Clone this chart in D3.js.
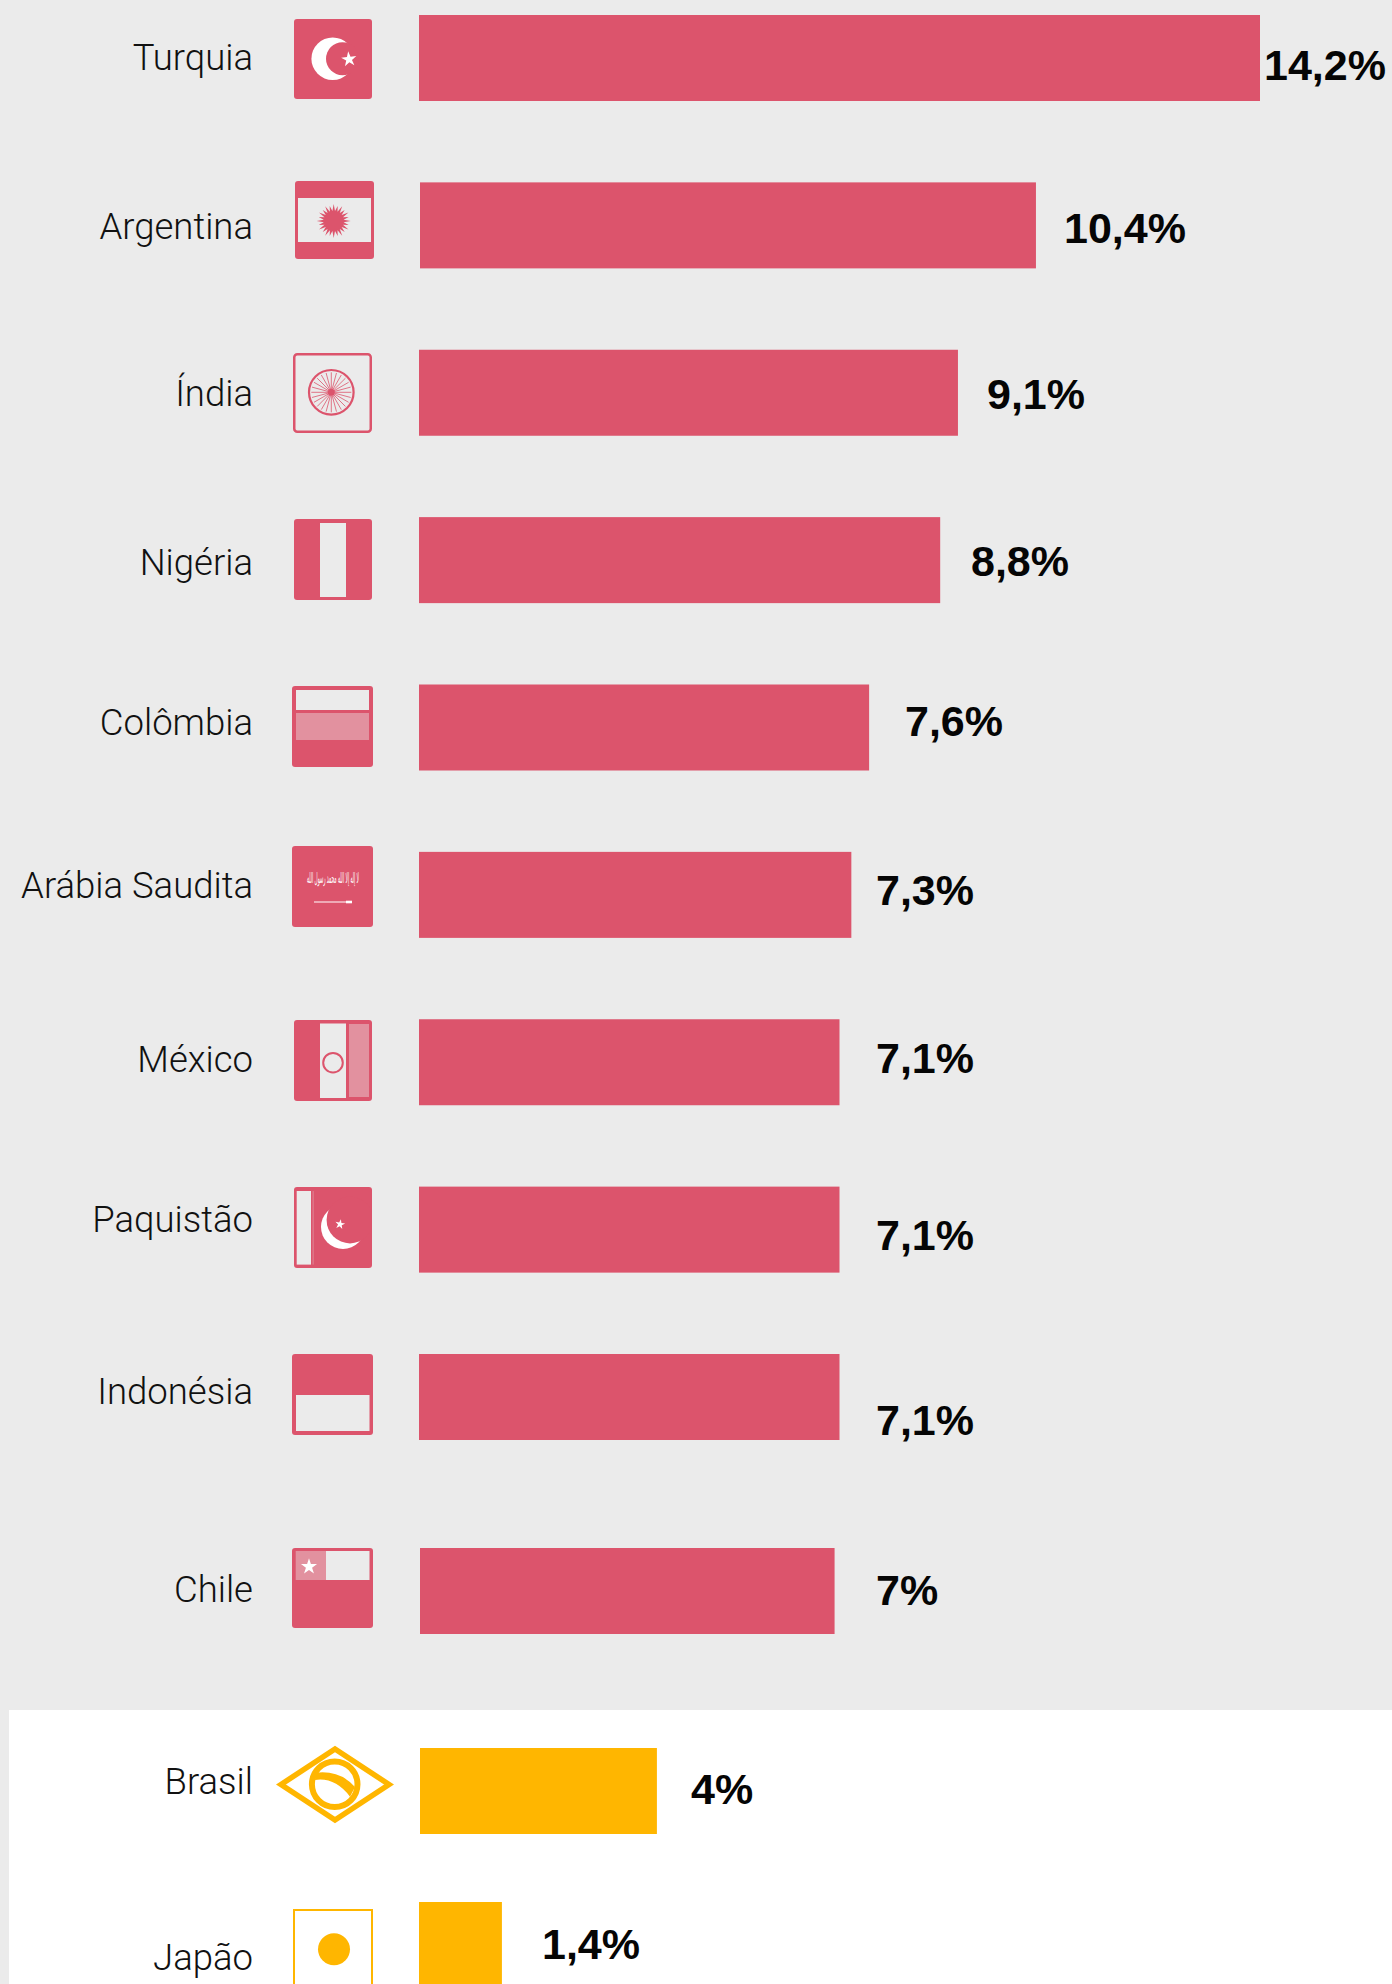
<!DOCTYPE html>
<html lang="pt">
<head>
<meta charset="utf-8">
<title>Participação por país</title>
<script src="https://cdn.jsdelivr.net/npm/d3@7/dist/d3.min.js"></script>
<style>
  html, body { margin: 0; padding: 0; background: #ebebeb; overflow: hidden; }
  svg { display: block; }
  .country { font-family: Roboto, "Liberation Sans", sans-serif; font-weight: 300; font-size: 36.5px; fill: #111; }
  .share { font-family: "Liberation Sans", Arimo, sans-serif; font-weight: 700; font-size: 43px; fill: #050505; }
</style>
</head>
<body>
<script>
// Series
const countries = ["Turquia", "Argentina", "Índia", "Nigéria", "Colômbia", "Arábia Saudita",
                   "México", "Paquistão", "Indonésia", "Chile", "Brasil", "Japão"];
const shares = [14.2, 10.4, 9.1, 8.8, 7.6, 7.3, 7.1, 7.1, 7.1, 7, 4, 1.4];
const shareLabels = ["14,2%", "10,4%", "9,1%", "8,8%", "7,6%", "7,3%", "7,1%", "7,1%", "7,1%", "7%", "4%", "1,4%"];
const highlighted = ["Brasil", "Japão"];

// Page layout
const width = 1392, height = 1984;
const paper = "#ebebeb", rose = "#dc546c", roseLight = "#e2919f", gold = "#ffb600";
const barHeight = 86;

// Hand-set placement of each row's furniture, in page pixels
const barNudge      = [0, 1, 0, 0, 0, 0, 0, 0, 0, 1, 1, 0];
const nameBaseline  = [70, 239, 406, 575, 735, 898, 1072, 1232, 1404, 1602, 1794, 1970];
const shareX        = [1264, 1064, 987, 971, 905, 876, 876, 876, 876, 876, 691, 542];
const shareBaseline = [80, 243, 409, 576, 736, 905, 1073, 1250, 1435, 1605, 1804, 1959];
const flagX         = [294, 295, 293, 294, 292, 292, 294, 294, 292, 292, 276, 293];
const flagY         = [19, 181, 353, 519, 686, 846, 1020, 1187, 1354, 1548, 1745, 1909];

const x = d3.scaleLinear().domain([0, 14.2]).range([0, 841]);
// Rows are evenly spaced except around the last three, which sit further apart
const y = d3.scaleLinear().domain([0, 8, 9, 10, 11]).range([15, 1354, 1548, 1748, 1902]);

const svg = d3.select("body").append("svg")
  .attr("width", width).attr("height", height).attr("viewBox", [0, 0, width, height]);

svg.append("rect").attr("width", width).attr("height", height).attr("fill", paper);
svg.append("rect").attr("x", 9).attr("y", 1710).attr("width", width - 9).attr("height", height - 1710).attr("fill", "#fff");

const rows = countries.map((name, i) => ({
  name, i, value: shares[i], label: shareLabels[i],
  color: highlighted.includes(name) ? gold : rose
}));

const row = svg.selectAll("g.row").data(rows).join("g").attr("class", "row");

row.append("rect")
  .attr("x", d => 419 + barNudge[d.i])
  .attr("y", d => y(d.i))
  .attr("width", d => x(d.value))
  .attr("height", barHeight)
  .attr("fill", d => d.color);

row.append("text").attr("class", "country")
  .attr("x", 253).attr("y", d => nameBaseline[d.i])
  .attr("text-anchor", "end").text(d => d.name);

row.append("text").attr("class", "share")
  .attr("x", d => shareX[d.i]).attr("y", d => shareBaseline[d.i])
  .text(d => d.label);

// Flag drawing helpers, all in each flag's local coordinates
const box = (g, w, h, fill, stroke) => g.append("rect")
  .attr("x", stroke ? 1.25 : 0).attr("y", stroke ? 1.25 : 0)
  .attr("width", stroke ? w - 2.5 : w).attr("height", stroke ? h - 2.5 : h)
  .attr("rx", 3).attr("fill", fill)
  .attr("stroke", stroke || "none").attr("stroke-width", stroke ? 2.5 : 0);
const patch = (g, a, b, w, h, fill) => g.append("rect")
  .attr("x", a).attr("y", b).attr("width", w).attr("height", h).attr("fill", fill);
const disc = (g, a, b, r, fill) => g.append("circle")
  .attr("cx", a).attr("cy", b).attr("r", r).attr("fill", fill);
const star = (g, a, b, size, turn) => g.append("path")
  .attr("d", d3.symbol().type(d3.symbolStar).size(size)())
  .attr("transform", `translate(${a},${b}) rotate(${turn})`).attr("fill", "#fff");

const flags = {
  "Turquia": (g, c) => {
    box(g, 78, 80, c);
    disc(g, 38.7, 39.7, 21.3, "#fff");
    disc(g, 48.5, 39.7, 16.5, c);
    star(g, 55, 40.3, 72, -78);
  },
  "Argentina": (g, c) => {
    box(g, 79, 78, c);
    patch(g, 3, 17, 73, 44, paper);
    const spikes = d3.range(48).map(k => [k * Math.PI / 24, k % 2 ? 10 : 17 - (k % 4 ? 1.5 : 0)]);
    g.append("path")
      .attr("d", d3.lineRadial().curve(d3.curveLinearClosed)(spikes))
      .attr("transform", "translate(38.7,40)").attr("fill", c);
  },
  "Índia": (g, c) => {
    box(g, 79, 80, "none", c);
    const wheel = g.append("g").attr("transform", "translate(38.3,39.3)");
    wheel.append("circle").attr("r", 22.3).attr("fill", "none").attr("stroke", c).attr("stroke-width", 2.2);
    wheel.selectAll("line").data(d3.range(24)).join("line")
      .attr("x1", k => 3 * Math.cos(k * Math.PI / 12)).attr("y1", k => 3 * Math.sin(k * Math.PI / 12))
      .attr("x2", k => 20 * Math.cos(k * Math.PI / 12)).attr("y2", k => 20 * Math.sin(k * Math.PI / 12))
      .attr("stroke", c).attr("stroke-width", 0.8);
    wheel.append("circle").attr("r", 3.5).attr("fill", c);
  },
  "Nigéria": (g, c) => {
    box(g, 78, 81, c);
    patch(g, 26, 4, 26, 74, paper);
  },
  "Colômbia": (g, c) => {
    box(g, 81, 81, c);
    patch(g, 4, 4, 73, 20, paper);
    patch(g, 4, 27, 73, 27, roseLight);
  },
  "Arábia Saudita": (g, c) => {
    box(g, 81, 81, c);
    g.append("text").attr("x", 41).attr("y", 37).attr("text-anchor", "middle")
      .attr("font-family", "'DejaVu Sans', sans-serif").attr("font-size", 15)
      .attr("textLength", 52).attr("lengthAdjust", "spacingAndGlyphs")
      .attr("fill", "#fff").attr("direction", "rtl")
      .text("لا إله إلا الله محمد رسول الله");
    g.append("line").attr("x1", 22).attr("x2", 57).attr("y1", 56).attr("y2", 56)
      .attr("stroke", "#fff").attr("stroke-width", 1.2);
    patch(g, 54, 54.7, 6, 2.6, "#fff");
  },
  "México": (g, c) => {
    box(g, 78, 81, c);
    patch(g, 26, 3.5, 26, 74.5, paper);
    patch(g, 55, 4, 20, 73, roseLight);
    g.append("circle").attr("cx", 39).attr("cy", 42.7).attr("r", 9.8)
      .attr("fill", "none").attr("stroke", c).attr("stroke-width", 2);
  },
  "Paquistão": (g, c) => {
    box(g, 78, 81, c);
    patch(g, 2.7, 4, 14.3, 73.6, paper);
    patch(g, 18.7, 4, 0.8, 73.6, roseLight);
    // The crescent is a white disc with a rose one over it, kept inside the flag
    g.append("clipPath").attr("id", "pk-field").append("rect").attr("width", 78).attr("height", 81);
    const moon = g.append("g").attr("clip-path", "url(#pk-field)");
    disc(moon, 49, 40, 22, "#fff");
    disc(moon, 56, 33, 23.4, c);
    star(g, 46, 37.3, 30, 10);
  },
  "Indonésia": (g, c) => {
    box(g, 81, 81, c);
    patch(g, 4, 41, 73.5, 36, paper);
  },
  "Chile": (g, c) => {
    box(g, 81, 80, c);
    patch(g, 3.7, 3, 30.3, 29, roseLight);
    patch(g, 34, 3, 43.5, 29, paper);
    star(g, 17, 18.7, 80, 0);
  },
  "Brasil": (g, c) => {
    g.append("path")
      .attr("d", d3.line().curve(d3.curveLinearClosed)([[5, 39.5], [59, 4], [113, 39.5], [59, 75]]))
      .attr("fill", "none").attr("stroke", c).attr("stroke-width", 5.5);
    g.append("circle").attr("cx", 58.7).attr("cy", 39.3).attr("r", 22.8)
      .attr("fill", "none").attr("stroke", c).attr("stroke-width", 6);
    const band = d3.path();
    band.moveTo(40, 27.7);
    band.quadraticCurveTo(64, 25, 79, 42);
    band.lineTo(74, 51.7);
    band.quadraticCurveTo(59, 32, 39, 35);
    band.closePath();
    g.append("path").attr("d", band.toString()).attr("fill", c);
  },
  "Japão": (g, c) => {
    g.append("rect").attr("x", 1).attr("y", 1).attr("width", 78).attr("height", 90)
      .attr("fill", "none").attr("stroke", c).attr("stroke-width", 2);
    disc(g, 41, 40.3, 16, c);
  }
};

row.append("g")
  .attr("transform", d => `translate(${flagX[d.i]},${flagY[d.i]})`)
  .each(function (d) { flags[d.name](d3.select(this), d.color); });
</script>
</body>
</html>
